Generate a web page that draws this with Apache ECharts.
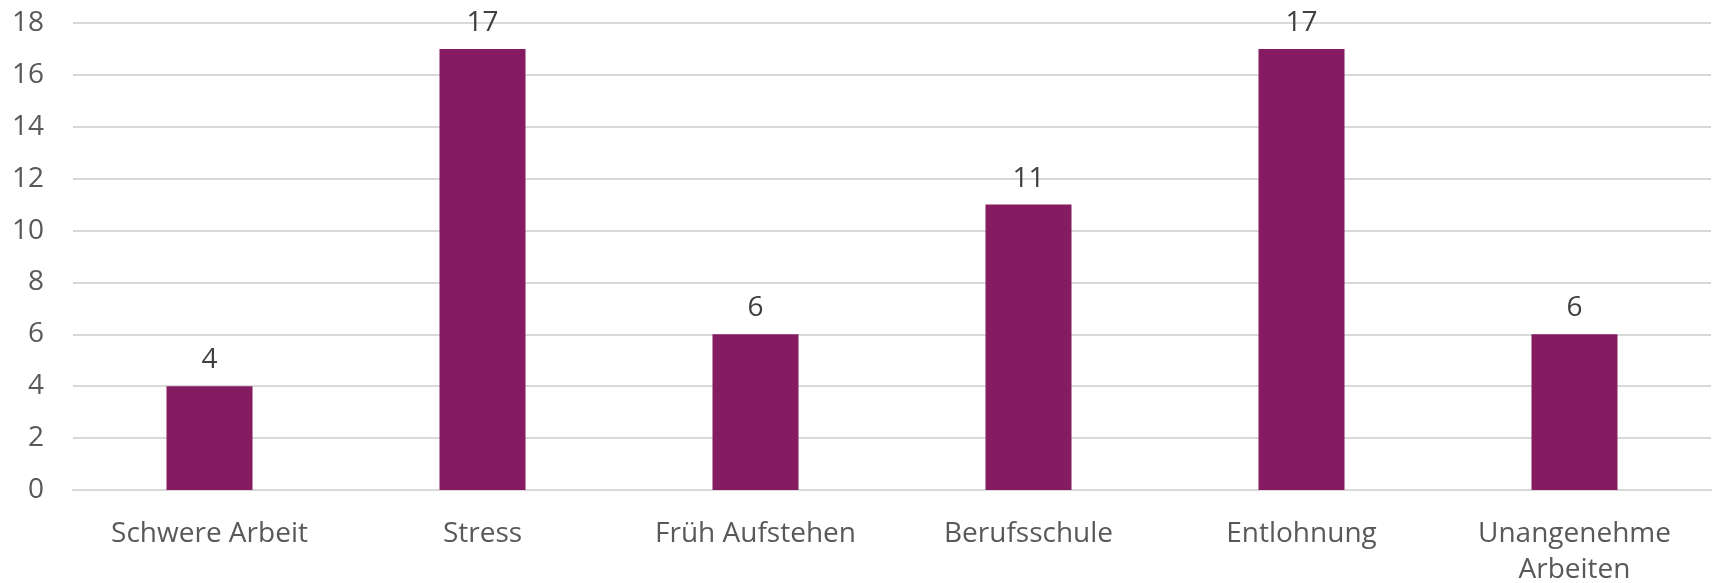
<!DOCTYPE html>
<html>
<head>
<meta charset="utf-8">
<script src="https://cdn.jsdelivr.net/npm/echarts@6/dist/echarts.min.js"></script>
<style>
    html, body {margin: 0; padding: 0; background: #fff;}
    #chart {width: 1714px; height: 583px;}
</style>
</head>
<body>
<div id="chart"></div>
<script>
    var categories = ['Schwere Arbeit', 'Stress', 'Früh Aufstehen', 'Berufsschule', 'Entlohnung', 'Unangenehme\nArbeiten'];
    var values = [4, 17, 6, 11, 17, 6];

    var chart = echarts.init(document.getElementById('chart'));
    var font = '"Open Sans", sans-serif';

    var option = {
        animation: false,
        grid: {left: 73, right: 3, top: 23, bottom: 93, containLabel: false, outerBoundsMode: 'none'},
        xAxis: {
            type: 'category',
            data: categories,
            axisLine: {show: true, lineStyle: {color: '#d9d9d9', width: 2}},
            axisTick: {show: false},
            axisLabel: {
                color: '#595959',
                fontFamily: font,
                fontSize: 28,
                lineHeight: 36,
                margin: 26,
                interval: 0
            }
        },
        yAxis: {
            type: 'value',
            min: 0,
            max: 18,
            interval: 2,
            axisLine: {show: false},
            axisTick: {show: false},
            splitLine: {lineStyle: {color: '#d9d9d9', width: 2}},
            axisLabel: {color: '#595959', fontFamily: font, fontSize: 28, margin: 29}
        },
        series: [{
            type: 'bar',
            data: values,
            barWidth: 86,
            itemStyle: {color: '#851b60'},
            label: {
                show: true,
                position: 'top',
                distance: 12,
                color: '#404040',
                fontFamily: font,
                fontSize: 28
            }
        }]
    };
    chart.setOption(option);
</script>
</body>
</html>
